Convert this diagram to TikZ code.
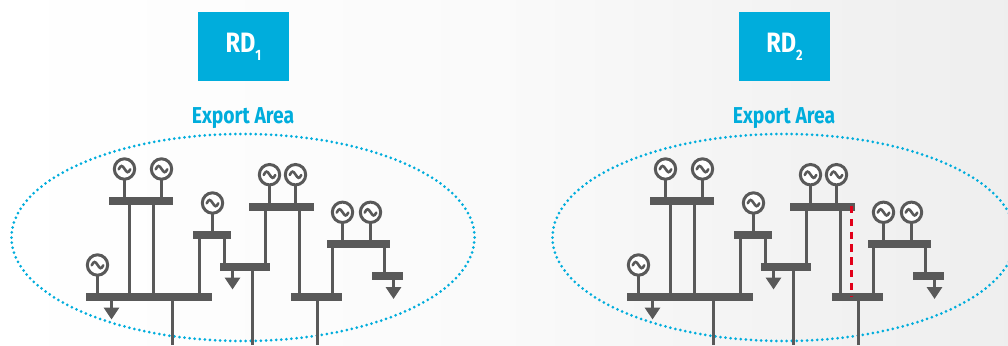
\documentclass[tikz,border=0pt]{standalone}
\usepackage{fontspec}
\setmainfont[FakeStretch=0.84]{Fira Sans}
\usetikzlibrary{arrows.meta,shapes.geometric}
\definecolor{netgray}{HTML}{595959}
\definecolor{rdblue}{HTML}{00ADDC}
\definecolor{cutred}{HTML}{E2001A}
\pgfdeclarehorizontalshading{bgshade}{100bp}{color(0bp)=(white); color(25bp)=(white); color(49.8bp)=(black!2); color(64.7bp)=(black!5); color(75bp)=(black!6.5); color(100bp)=(black!6.5)}
\tikzset{
  x=1pt,y=-1pt,
  rdbox/.style={fill=rdblue,text=white,minimum width=91pt,minimum height=69pt,inner sep=0pt,font=\bfseries\fontsize{28}{28}\selectfont},
  areatitle/.style={text=rdblue,inner sep=0pt,font=\bfseries\fontsize{23}{23}\selectfont},
  arealine/.style={draw=rdblue,line width=3pt,line cap=round,dash pattern=on 0pt off 5.1pt,minimum width=463pt,minimum height=207pt,shape=ellipse,inner sep=0pt},
  bus/.style={fill=netgray,rectangle,minimum height=8pt,inner sep=0pt,outer sep=0pt},
  link/.style={draw=netgray,line width=3pt},
  load/.style={link,-{Triangle[width=15pt,length=12pt]}},
  gen/.style={circle,draw=netgray,line width=3pt,fill=white,minimum size=20.4pt,inner sep=0pt,outer sep=0pt,
    path picture={\draw[netgray,line width=2.6pt,line cap=round]
      ([xshift=-5.8pt,yshift=-0.3pt]path picture bounding box.center)
      .. controls +(2.2,-4.4) and +(-2.4,-3.8) .. ([yshift=0.2pt]path picture bounding box.center)
      .. controls +(2.4,3.8) and +(-2.2,4.4) .. ([xshift=5.8pt,yshift=-0.3pt]path picture bounding box.center);}},
  cutline/.style={draw=cutred,line width=2.8pt,dash pattern=on 7.3pt off 5.5pt}
}
\newcommand{\vlink}[3]{\draw[link] (#1,0 |- #2) -- (#1,0 |- #3);}
\newcommand{\gridnet}[2]{%
  \node[rdbox] (box) at (243.5,46.5) {RD\raisebox{-0.28em}{\fontsize{15}{15}\selectfont #2}};
  \node[areatitle] (title) at (243,118) {Export Area};
  \node[arealine] (area) at (243,237.5) {};
  % buses
  \node[bus,minimum width=126pt] (main) at (149.3,296.7) {};
  \node[bus,minimum width=64.5pt] (b1) at (140.8,201) {};
  \node[bus,minimum width=37.7pt] (b2) at (212.2,235) {};
  \node[bus,minimum width=50.3pt] (b3) at (245.2,266.7) {};
  \node[bus,minimum width=65pt] (b4) at (281.5,206.7) {};
  \node[bus,minimum width=51pt] (b5) at (316.2,296.7) {};
  \node[bus,minimum width=63.3pt] (b6) at (358.7,244) {};
  \node[bus,minimum width=30.4pt] (b7) at (387.5,276.3) {};
  % generators
  \node[gen] (g1) at (124.5,169) {};
  \node[gen] (g2) at (161.5,169) {};
  \node[gen] (g3) at (212.5,203) {};
  \node[gen] (g4) at (97.5,265) {};
  \node[gen] (g5) at (269.5,174.7) {};
  \node[gen] (g6) at (295.5,174.7) {};
  \node[gen] (g7) at (342.5,212.3) {};
  \node[gen] (g8) at (370.5,212.3) {};
  % generator stems
  \draw[link] (g1.south) -- (g1.south |- b1.north);
  \draw[link] (g2.south) -- (g2.south |- b1.north);
  \draw[link] (g3.south) -- (g3.south |- b2.north);
  \draw[link] (g4.south) -- (g4.south |- main.north);
  \draw[link] (g5.south) -- (g5.south |- b4.north);
  \draw[link] (g6.south) -- (g6.south |- b4.north);
  \draw[link] (g7.south) -- (g7.south |- b6.north);
  \draw[link] (g8.south) -- (g8.south |- b6.north);
  % lines between buses
  \vlink{129.5}{b1.south}{main.north}
  \vlink{153.5}{b1.south}{main.north}
  \vlink{199.5}{b2.south}{main.north}
  \vlink{224.5}{b2.south}{b3.north}
  \vlink{265.5}{b4.south}{b3.north}
  \vlink{299.5}{b4.south}{b5.north}
  \vlink{332.5}{b6.south}{b5.north}
  \vlink{384.5}{b6.south}{b7.north}
  % exits at the bottom
  \coordinate (exitA) at (172.5,345);
  \coordinate (exitB) at (252.5,345);
  \coordinate (exitC) at (317.5,345);
  \draw[link] (exitA |- main.south) -- (exitA);
  \draw[link] (exitB |- b3.south) -- (exitB);
  \draw[link] (exitC |- b5.south) -- (exitC);
  % loads
  \coordinate (tipA) at (111.5,319.5);
  \coordinate (tipB) at (232.5,289.5);
  \coordinate (tipC) at (393.5,299);
  \draw[load] (tipA |- main.south) -- (tipA);
  \draw[load] (tipB |- b3.south) -- (tipB);
  \draw[load] (tipC |- b7.south) -- (tipC);
}
\begin{document}
\begin{tikzpicture}
\useasboundingbox (0,0) rectangle (1008,345);
\shade[shading=bgshade] (0,0) rectangle (1008,345);
\clip (0,0) rectangle (1008,345);
\begin{scope}[name prefix=L-]
  \gridnet{L}{1}
\end{scope}
\begin{scope}[shift={(541,0)},name prefix=R-]
  \gridnet{R}{2}
  \draw[cutline] (310.7,0 |- b4.north) ++(0,3.3) coordinate (cutstart) -- (cutstart |- b5.center);
\end{scope}
\end{tikzpicture}
\end{document}
